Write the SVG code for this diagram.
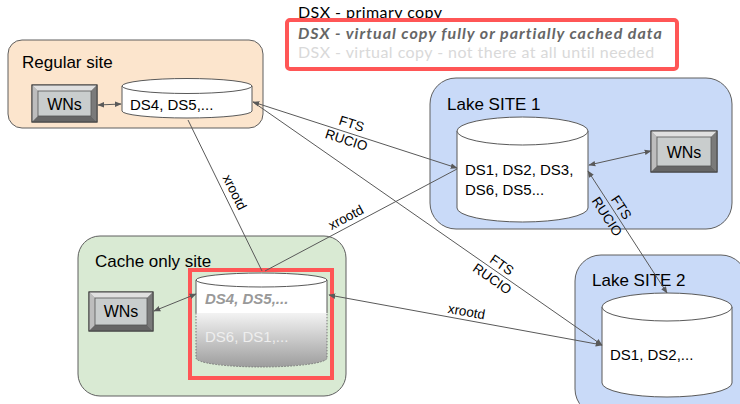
<svg xmlns="http://www.w3.org/2000/svg" width="740" height="404" viewBox="0 0 740 404">
<defs>
<marker id="ah" viewBox="0 0 10 10" refX="9" refY="5" markerWidth="7" markerHeight="7" markerUnits="userSpaceOnUse" orient="auto-start-reverse">
<path d="M0,1 L10,5 L0,9 z" fill="#595959"/>
</marker>
<linearGradient id="cg" x1="0" y1="0" x2="0" y2="1">
<stop offset="0" stop-color="#f3f3f3"/>
<stop offset="1" stop-color="#9d9d9d"/>
</linearGradient>
</defs>
<style>
.site{stroke:#5f5f5f;stroke-width:1}
.t{font-family:"Liberation Sans",Arial,sans-serif;fill:#000}
.title{font-size:17px}
.ds{font-size:15px}
.lbl{font-family:"Liberation Sans",Arial,sans-serif;font-size:13.5px;fill:#000;text-anchor:middle}
.cyl{fill:#fff;stroke:#595959;stroke-width:1}
.con{fill:none;stroke:#595959;stroke-width:1}
.leg{font-family:Lato,"Liberation Sans",sans-serif;font-size:16px;letter-spacing:0.45px}
.wn-out{fill:#9e9e9e;stroke:#444;stroke-width:1}
.wn-in{fill:#c9cdcd;stroke:#555;stroke-width:0.8}
.red{fill:none;stroke:#ff5656;stroke-width:4}
</style>

<g id="legend">
<text class="leg" x="298" y="18" fill="#000">DSX - primary copy</text>
<text class="leg" x="298" y="39" fill="#666" font-weight="bold" font-style="italic" style="letter-spacing:1px">DSX - virtual copy fully or partially cached data</text>
<text class="leg" x="298" y="58" fill="#d9d9d9">DSX - virtual copy - not there at all until needed</text>
<rect class="red" x="287" y="20" width="390" height="49" rx="3"/>
</g>

<g id="regular-site">
<rect class="site" x="8" y="40" width="255" height="88" rx="14" fill="#fce5cd"/>
<text class="t title" x="22" y="68">Regular site</text>
</g>
<g id="regular-wns">
<rect class="wn-out" x="32" y="85" width="65" height="37"/>
<polygon points="32,85 97,85 91,91 38,91" fill="#e0e0e0"/>
<polygon points="32,85 38,91 38,116 32,122" fill="#bdbdbd"/>
<polygon points="97,85 97,122 91,116 91,91" fill="#7a7a7a"/>
<polygon points="32,122 97,122 91,116 38,116" fill="#666"/>
<rect class="wn-in" x="38" y="91" width="53" height="25"/>
<rect x="32" y="85" width="65" height="37" fill="none" stroke="#444"/>
<text class="t" x="64.5" y="109.5" font-size="16" text-anchor="middle">WNs</text>
</g>
<g id="regular-storage">
<path class="cyl" d="M122,86 L122,111 A65,7 0 0 0 252,111 L252,86"/>
<ellipse class="cyl" cx="187" cy="86" rx="65" ry="7.5"/>
<text class="t ds" x="130" y="110">DS4, DS5,...</text>
</g>

<g id="lake1-site">
<rect class="site" x="430" y="78" width="302" height="151" rx="26" fill="#c9daf8"/>
<text class="t title" x="447" y="110">Lake SITE 1</text>
</g>
<g id="lake1-storage">
<path class="cyl" d="M457,131 L457,208 A65.5,14 0 0 0 588,208 L588,131"/>
<ellipse class="cyl" cx="522.5" cy="131" rx="65.5" ry="14"/>
<text class="t ds" x="465" y="175">DS1, DS2, DS3,</text>
<text class="t ds" x="465" y="195">DS6, DS5...</text>
</g>
<g id="lake1-wns">
<rect class="wn-out" x="651" y="131" width="66" height="41"/>
<polygon points="651,131 717,131 711,137 657,137" fill="#e0e0e0"/>
<polygon points="651,131 657,137 657,166 651,172" fill="#bdbdbd"/>
<polygon points="717,131 717,172 711,166 711,137" fill="#7a7a7a"/>
<polygon points="651,172 717,172 711,166 657,166" fill="#666"/>
<rect class="wn-in" x="657" y="137" width="54" height="29"/>
<rect x="651" y="131" width="66" height="41" fill="none" stroke="#444"/>
<text class="t" x="684" y="157.5" font-size="16" text-anchor="middle">WNs</text>
</g>

<g id="cache-site">
<rect class="site" x="78" y="236" width="268" height="160" rx="22" fill="#d9ead3"/>
<text class="t title" x="95" y="267">Cache only site</text>
</g>
<g id="cache-wns">
<rect class="wn-out" x="89" y="292" width="64" height="39"/>
<polygon points="89,292 153,292 147,298 95,298" fill="#e0e0e0"/>
<polygon points="89,292 95,298 95,325 89,331" fill="#bdbdbd"/>
<polygon points="153,292 153,331 147,325 147,298" fill="#7a7a7a"/>
<polygon points="89,331 153,331 147,325 95,325" fill="#666"/>
<rect class="wn-in" x="95" y="298" width="52" height="27"/>
<rect x="89" y="292" width="64" height="39" fill="none" stroke="#444"/>
<text class="t" x="121" y="317" font-size="16" text-anchor="middle">WNs</text>
</g>
<g id="cache-storage">
<path d="M196,313 L196,358 A65.5,9 0 0 0 327,358 L327,313" fill="url(#cg)" stroke="#777" stroke-width="1" stroke-dasharray="1.5,1.5"/>
<path d="M196,313 L196,280 L327,280 L327,313 Z" fill="#fff"/>
<path class="con" d="M196,280 L196,313 M327,280 L327,313"/>
<ellipse class="cyl" cx="261.5" cy="280" rx="65.5" ry="7"/>
<text class="t ds" x="205" y="304" font-weight="bold" font-style="italic" style="fill:#999">DS4, DS5,...</text>
<text class="t ds" x="205" y="342" style="fill:#eeeeee">DS6, DS1,...</text>
<rect class="red" x="190" y="270" width="142" height="108"/>
</g>

<g id="lake2-site">
<rect class="site" x="575" y="255" width="172" height="160" rx="26" fill="#c9daf8"/>
<text class="t title" x="592" y="286">Lake SITE 2</text>
</g>
<g id="lake2-storage">
<path class="cyl" d="M602,307 L602,383 A65,14 0 0 0 732,383 L732,307"/>
<ellipse class="cyl" cx="667" cy="307" rx="65" ry="14"/>
<text class="t ds" x="610" y="360">DS1, DS2,...</text>
</g>

<g id="connectors">
<line class="con" x1="98" y1="105" x2="121" y2="104" marker-start="url(#ah)" marker-end="url(#ah)"/>
<line class="con" x1="253" y1="102" x2="457" y2="168" marker-start="url(#ah)" marker-end="url(#ah)"/>
<line class="con" x1="253" y1="102" x2="602" y2="345" marker-end="url(#ah)"/>
<line class="con" x1="588" y1="171" x2="667" y2="293" marker-start="url(#ah)" marker-end="url(#ah)"/>
<line class="con" x1="589" y1="165" x2="651" y2="151" marker-start="url(#ah)" marker-end="url(#ah)"/>
<line class="con" x1="188" y1="120" x2="262" y2="271"/>
<line class="con" x1="265" y1="271" x2="457" y2="169"/>
<line class="con" x1="329" y1="295" x2="602" y2="345" marker-start="url(#ah)" marker-end="url(#ah)"/>
<line class="con" x1="196" y1="294" x2="154" y2="311" marker-start="url(#ah)" marker-end="url(#ah)"/>
<text class="lbl" transform="translate(349,132) rotate(18)"><tspan x="0" y="-4">FTS</tspan><tspan x="0" y="13">RUCIO</tspan></text>
<text class="lbl" transform="translate(497,272) rotate(35)"><tspan x="0" y="-4">FTS</tspan><tspan x="0" y="13">RUCIO</tspan></text>
<text class="lbl" transform="translate(614,212) rotate(57)"><tspan x="0" y="-4">FTS</tspan><tspan x="0" y="13">RUCIO</tspan></text>
<text class="lbl" transform="translate(227,196) rotate(63.5)" y="-4">xrootd</text>
<text class="lbl" transform="translate(350,225) rotate(-28)" y="-4">xrootd</text>
<text class="lbl" transform="translate(465,320) rotate(10.4)" y="-4">xrootd</text>
</g>
</svg>
